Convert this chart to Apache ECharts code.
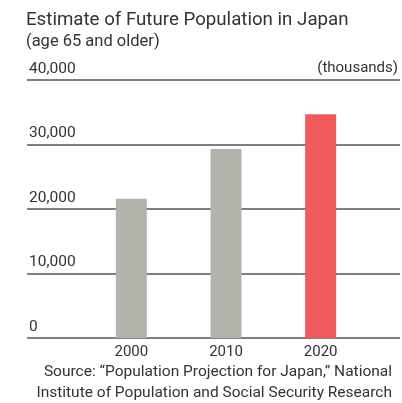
<!DOCTYPE html>
<html>
<head>
<meta charset="utf-8">
<script src="https://cdn.jsdelivr.net/npm/echarts@6/dist/echarts.min.js"></script>
<style>
  html, body { margin: 0; padding: 0; background: #fff; }
  #chart { width: 402px; height: 403px; }
</style>
</head>
<body>
<div id="chart"></div>
<script>
// Population aged 65 and older, in thousands
const years = ['2000', '2010', '2020'];
const population = [21600, 29300, 34700];
const barColors = ['#b3b3ab', '#b3b3ab', '#ef5a5d'];
const yTicks = [0, 10000, 20000, 30000, 40000];

const FONT = 'Roboto, "Open Sans", sans-serif';
const TEXT = '#333';

const chart = echarts.init(document.getElementById('chart'), null, { renderer: 'canvas' });

chart.setOption({
  animation: false,
  title: {
    text: 'Estimate of Future Population in Japan',
    subtext: '(age 65 and older)',
    left: 21,
    top: 6,
    itemGap: 3,
    textStyle: { fontFamily: FONT, fontSize: 18.7, fontWeight: 'normal', color: TEXT },
    subtextStyle: { fontFamily: FONT, fontSize: 16.5, color: TEXT }
  },
  grid: [
    { left: 27, right: 2, top: 80, bottom: 65 },
    { left: 84, width: 284, top: 80, bottom: 65 }
  ],
  xAxis: [
    { gridIndex: 0, type: 'category', data: years, show: false },
    {
      gridIndex: 1,
      type: 'category',
      data: years,
      axisLine: { show: false },
      axisTick: { show: false },
      axisLabel: { margin: 7, fontFamily: FONT, fontSize: 15, color: TEXT }
    }
  ],
  yAxis: [
    {
      gridIndex: 0,
      type: 'value',
      min: yTicks[0],
      max: yTicks[yTicks.length - 1],
      interval: 10000,
      axisLine: { show: false },
      axisTick: { show: false },
      splitLine: { lineStyle: { color: '#555', width: 1.5 } },
      axisLabel: {
        inside: true,
        margin: 2,
        align: 'left',
        verticalAlign: 'bottom',
        padding: [0, 0, 3, 0],
        fontFamily: FONT,
        fontSize: 15.5,
        color: TEXT,
        formatter: v => v.toLocaleString('en-US')
      }
    },
    {
      gridIndex: 1,
      type: 'value',
      min: yTicks[0],
      max: yTicks[yTicks.length - 1],
      interval: 10000,
      show: false,
      splitLine: { show: false }
    }
  ],
  series: [{
    type: 'bar',
    xAxisIndex: 1,
    yAxisIndex: 1,
    barWidth: 31,
    data: population.map((v, i) => ({ value: v, itemStyle: { color: barColors[i] } })),
    z: 3
  }],
  graphic: [
    {
      type: 'text',
      right: 4,
      top: 61,
      style: { text: '(thousands)', font: '15px ' + FONT, fill: TEXT }
    },
    {
      type: 'text',
      right: 10,
      top: 364,
      style: { text: 'Source: \u201cPopulation Projection for Japan,\u201d National', font: '15.5px ' + FONT, fill: TEXT, textAlign: 'right' }
    },
    {
      type: 'text',
      right: 10,
      top: 385,
      style: { text: 'Institute of Population and Social Security Research', font: '15.5px ' + FONT, fill: TEXT, textAlign: 'right' }
    }
  ]
});
</script>
</body>
</html>
